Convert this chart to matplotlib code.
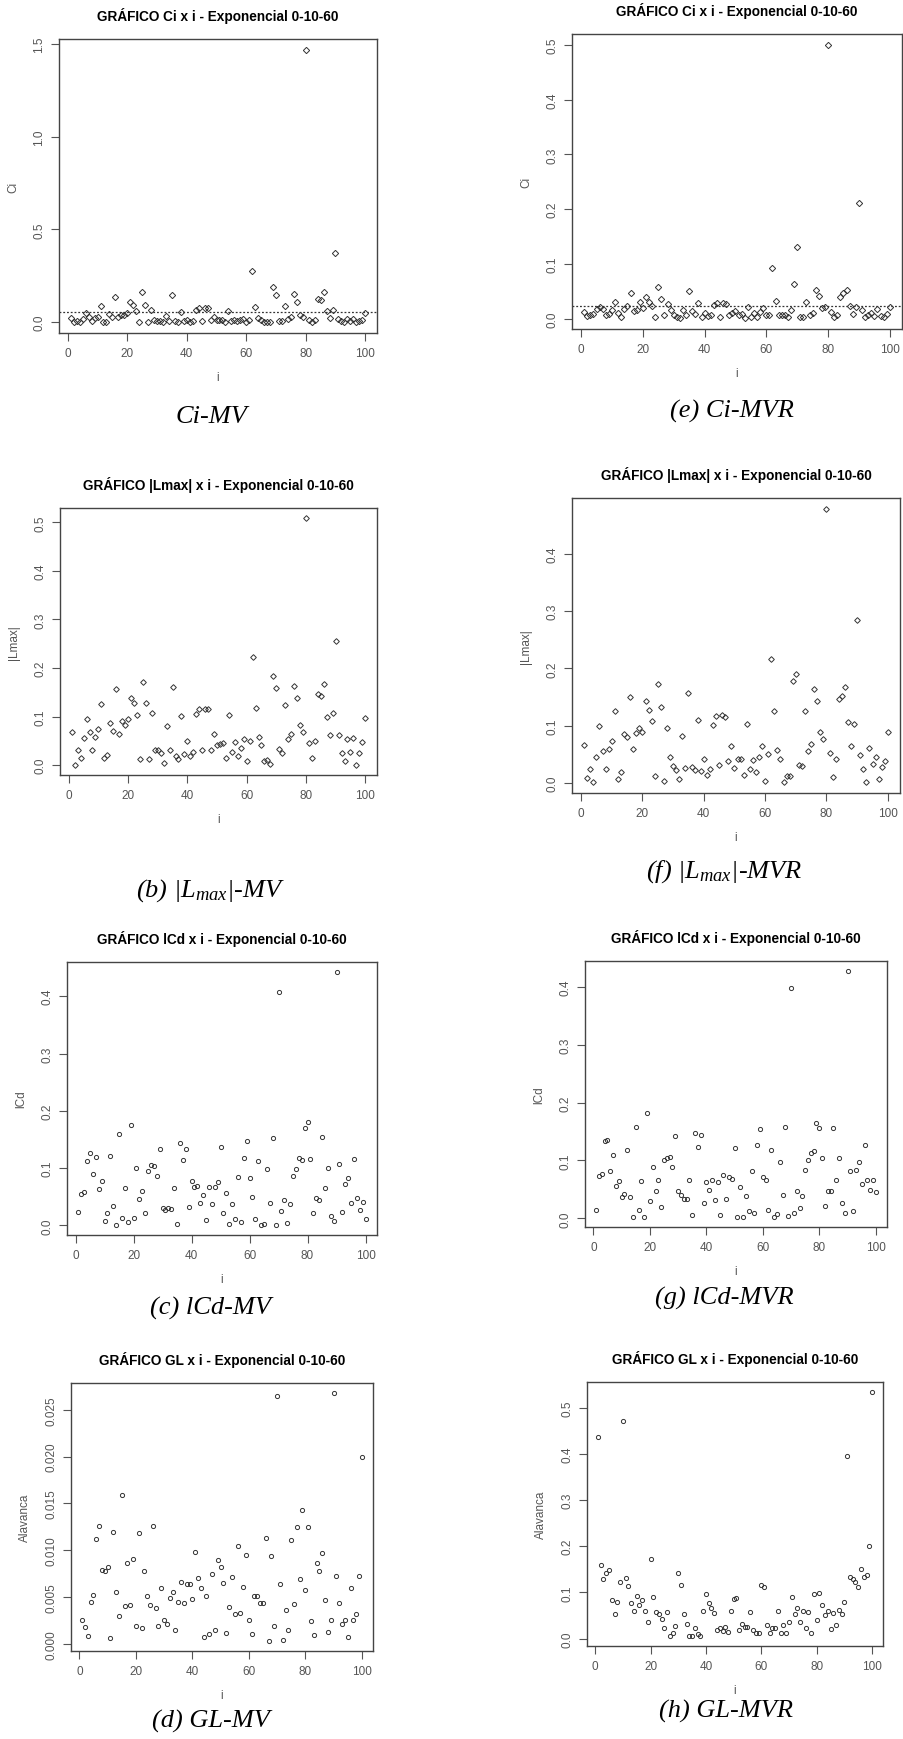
import numpy as np
import matplotlib
matplotlib.use("Agg")
import matplotlib.pyplot as plt
from matplotlib import font_manager

# valores (i = 1..100)
idx = np.arange(1, 101)

ci_mv = [0.02, 0.0, 0.005, 0.0, 0.015, 0.05, 0.025, 0.005, 0.02, 0.03,
         0.088, 0.0, 0.003, 0.043, 0.03, 0.138, 0.025, 0.038, 0.04, 0.048,
         0.106, 0.092, 0.06, 0.0, 0.165, 0.09, 0.0, 0.063, 0.01, 0.005,
         0.005, 0.0, 0.035, 0.008, 0.145, 0.005, 0.0, 0.055, 0.007, 0.013,
         0.002, 0.005, 0.065, 0.075, 0.005, 0.077, 0.077, 0.009, 0.025, 0.011,
         0.013, 0.012, 0.002, 0.06, 0.005, 0.013, 0.008, 0.01, 0.015, 0.0,
         0.012, 0.278, 0.08, 0.02, 0.01, 0.0, 0.0, 0.0, 0.19, 0.144,
         0.005, 0.005, 0.088, 0.017, 0.025, 0.15, 0.111, 0.04, 0.03, 1.468,
         0.013, 0.0, 0.013, 0.124, 0.118, 0.16, 0.058, 0.02, 0.066, 0.374,
         0.016, 0.005, 0.0, 0.016, 0.007, 0.016, 0.002, 0.008, 0.013, 0.048]
ci_mv_cut = 0.054

ci_mvr = [0.013, 0.004, 0.006, 0.009, 0.018, 0.021, 0.018, 0.006, 0.009, 0.015,
          0.03, 0.01, 0.003, 0.017, 0.023, 0.047, 0.014, 0.015, 0.03, 0.019,
          0.039, 0.031, 0.023, 0.003, 0.058, 0.036, 0.007, 0.027, 0.015, 0.006,
          0.003, 0.002, 0.015, 0.007, 0.05, 0.014, 0.009, 0.029, 0.003, 0.01,
          0.004, 0.007, 0.024, 0.028, 0.003, 0.029, 0.026, 0.006, 0.01, 0.014,
          0.006, 0.009, 0.001, 0.021, 0.003, 0.01, 0.003, 0.012, 0.02, 0.006,
          0.006, 0.092, 0.033, 0.007, 0.006, 0.007, 0.003, 0.015, 0.063, 0.131,
          0.003, 0.003, 0.031, 0.007, 0.01, 0.052, 0.041, 0.02, 0.022, 0.5,
          0.012, 0.003, 0.006, 0.04, 0.047, 0.052, 0.023, 0.009, 0.022, 0.212,
          0.015, 0.003, 0.006, 0.01, 0.004, 0.017, 0.004, 0.003, 0.009, 0.021]
ci_mvr_cut = 0.0234

lmax_mv = [0.069, 0.0, 0.032, 0.014, 0.056, 0.094, 0.068, 0.031, 0.057, 0.074,
           0.125, 0.014, 0.021, 0.087, 0.071, 0.156, 0.065, 0.09, 0.082, 0.094,
           0.138, 0.127, 0.103, 0.012, 0.171, 0.128, 0.012, 0.107, 0.032, 0.032,
           0.024, 0.005, 0.081, 0.032, 0.161, 0.019, 0.012, 0.101, 0.022, 0.049,
           0.019, 0.028, 0.106, 0.116, 0.032, 0.116, 0.116, 0.032, 0.064, 0.041,
           0.043, 0.045, 0.014, 0.103, 0.026, 0.047, 0.019, 0.036, 0.053, 0.008,
           0.049, 0.222, 0.118, 0.058, 0.041, 0.009, 0.01, 0.002, 0.184, 0.159,
           0.033, 0.024, 0.124, 0.054, 0.064, 0.163, 0.139, 0.082, 0.068, 0.509,
           0.045, 0.014, 0.049, 0.147, 0.143, 0.168, 0.1, 0.061, 0.108, 0.256,
           0.062, 0.024, 0.009, 0.054, 0.027, 0.056, 0.001, 0.024, 0.048, 0.098]

lmax_mvr = [0.067, 0.009, 0.024, 0.003, 0.046, 0.1, 0.057, 0.025, 0.059, 0.073,
            0.125, 0.008, 0.019, 0.086, 0.08, 0.15, 0.059, 0.087, 0.097, 0.089,
            0.143, 0.128, 0.108, 0.012, 0.173, 0.133, 0.004, 0.097, 0.045, 0.03,
            0.023, 0.008, 0.083, 0.027, 0.158, 0.029, 0.023, 0.111, 0.021, 0.042,
            0.014, 0.024, 0.102, 0.118, 0.031, 0.119, 0.115, 0.038, 0.065, 0.027,
            0.043, 0.042, 0.014, 0.103, 0.025, 0.04, 0.019, 0.045, 0.065, 0.004,
            0.051, 0.217, 0.125, 0.058, 0.042, 0.002, 0.013, 0.012, 0.179, 0.191,
            0.032, 0.03, 0.125, 0.056, 0.068, 0.165, 0.144, 0.089, 0.077, 0.478,
            0.052, 0.01, 0.043, 0.146, 0.152, 0.167, 0.106, 0.064, 0.104, 0.284,
            0.049, 0.025, 0.003, 0.062, 0.033, 0.045, 0.008, 0.029, 0.039, 0.089]

lcd_mv = [0.024, 0.055, 0.058, 0.113, 0.126, 0.089, 0.12, 0.064, 0.077, 0.007,
          0.022, 0.121, 0.034, 0.001, 0.159, 0.013, 0.065, 0.006, 0.175, 0.013,
          0.101, 0.046, 0.06, 0.022, 0.095, 0.106, 0.104, 0.086, 0.133, 0.03,
          0.027, 0.031, 0.029, 0.066, 0.003, 0.143, 0.115, 0.134, 0.032, 0.078,
          0.067, 0.069, 0.04, 0.053, 0.009, 0.067, 0.037, 0.067, 0.076, 0.137,
          0.022, 0.056, 0.003, 0.037, 0.012, 0.085, 0.006, 0.117, 0.147, 0.082,
          0.05, 0.012, 0.112, 0.001, 0.003, 0.099, 0.039, 0.152, 0.001, 0.408,
          0.026, 0.044, 0.005, 0.037, 0.086, 0.098, 0.117, 0.115, 0.17, 0.18,
          0.116, 0.022, 0.048, 0.044, 0.155, 0.065, 0.101, 0.017, 0.008, 0.442,
          0.108, 0.024, 0.073, 0.083, 0.04, 0.116, 0.048, 0.027, 0.041, 0.012]

lcd_mvr = [0.014, 0.074, 0.077, 0.133, 0.136, 0.081, 0.109, 0.056, 0.064, 0.037,
           0.042, 0.119, 0.036, 0.003, 0.158, 0.014, 0.064, 0.003, 0.182, 0.03,
           0.088, 0.048, 0.066, 0.019, 0.1, 0.104, 0.106, 0.088, 0.142, 0.047,
           0.041, 0.033, 0.033, 0.067, 0.005, 0.147, 0.123, 0.144, 0.026, 0.062,
           0.049, 0.067, 0.032, 0.062, 0.005, 0.075, 0.034, 0.072, 0.068, 0.121,
           0.003, 0.055, 0.002, 0.038, 0.012, 0.081, 0.009, 0.126, 0.155, 0.071,
           0.067, 0.014, 0.119, 0.002, 0.007, 0.097, 0.041, 0.158, 0.004, 0.399,
           0.01, 0.048, 0.017, 0.039, 0.083, 0.1, 0.113, 0.116, 0.165, 0.157,
           0.105, 0.021, 0.047, 0.047, 0.157, 0.066, 0.104, 0.026, 0.01, 0.428,
           0.082, 0.013, 0.083, 0.097, 0.059, 0.126, 0.066, 0.049, 0.066, 0.045]

gl_mv = [0.00254, 0.00175, 0.00082, 0.00443, 0.00518, 0.0112, 0.0126, 0.0079, 0.0078, 0.0082,
         0.00068, 0.0119, 0.0055, 0.003, 0.0159, 0.004, 0.0086, 0.0041, 0.0091, 0.0019,
         0.0118, 0.0017, 0.0078, 0.0051, 0.0042, 0.0126, 0.0038, 0.0019, 0.006, 0.0026,
         0.0021, 0.0049, 0.0055, 0.0015, 0.0045, 0.0066, 0.0044, 0.0064, 0.0064, 0.0048,
         0.0098, 0.007, 0.006, 0.0007, 0.0051, 0.0011, 0.0075, 0.0015, 0.009, 0.0082,
         0.0065, 0.0012, 0.0039, 0.0071, 0.0032, 0.0104, 0.0033, 0.0061, 0.0095, 0.0026,
         0.0011, 0.0051, 0.0051, 0.0044, 0.0044, 0.0113, 0.0003, 0.0094, 0.0019, 0.0265,
         0.0064, 0.0004, 0.0036, 0.0015, 0.0111, 0.0043, 0.0125, 0.0069, 0.0143, 0.0058,
         0.0125, 0.0024, 0.0009, 0.0086, 0.0078, 0.0097, 0.0047, 0.0013, 0.0026, 0.0268,
         0.0073, 0.0044, 0.0021, 0.0026, 0.0007, 0.006, 0.0025, 0.0032, 0.0073, 0.02]

gl_mvr = [0.438, 0.159, 0.13, 0.143, 0.149, 0.083, 0.054, 0.08, 0.123, 0.471,
          0.132, 0.114, 0.076, 0.059, 0.093, 0.072, 0.084, 0.059, 0.035, 0.173,
          0.09, 0.057, 0.053, 0.042, 0.022, 0.057, 0.005, 0.012, 0.028, 0.141,
          0.116, 0.054, 0.031, 0.005, 0.005, 0.023, 0.009, 0.006, 0.06, 0.096,
          0.077, 0.067, 0.056, 0.018, 0.022, 0.016, 0.025, 0.015, 0.06, 0.086,
          0.088, 0.019, 0.031, 0.026, 0.024, 0.058, 0.019, 0.013, 0.012, 0.117,
          0.112, 0.029, 0.012, 0.022, 0.023, 0.06, 0.012, 0.029, 0.013, 0.035,
          0.089, 0.054, 0.066, 0.036, 0.06, 0.022, 0.057, 0.012, 0.096, 0.041,
          0.099, 0.072, 0.051, 0.059, 0.021, 0.056, 0.03, 0.061, 0.054, 0.079,
          0.396, 0.133, 0.13, 0.122, 0.112, 0.151, 0.133, 0.137, 0.201, 0.535]

title_txt = "GRÁFICO {} x i - Exponencial 0-10-60"

# fontes
names = {f.name for f in font_manager.fontManager.ttflist}
if "Liberation Sans Narrow" in names:
    title_font, title_size = "Liberation Sans Narrow", 11.5
else:
    title_font, title_size = "Liberation Sans", 9.8

plt.rcParams["font.family"] = ["Liberation Sans", "DejaVu Sans"]
plt.rcParams["mathtext.fontset"] = "custom"
plt.rcParams["mathtext.it"] = "Liberation Serif:italic"
plt.rcParams["mathtext.rm"] = "Liberation Serif:italic"

W, H = 904, 1740
fig = plt.figure(figsize=(W / 100, H / 100), dpi=100)

gray = "#555555"

# (left, right, top, bottom) em pixels
panels = [
    (ci_mv, "Ci", "Ci", [0, 0.5, 1.0, 1.5], "%.1f", (59, 377, 40, 334), ci_mv_cut, "D", 3.2),
    (ci_mvr, "Ci", "Ci", [0, 0.1, 0.2, 0.3, 0.4, 0.5], "%.1f", (572, 902, 35, 330), ci_mvr_cut, "D", 3.2),
    (lmax_mv, "|Lmax|", "|Lmax|", [0, 0.1, 0.2, 0.3, 0.4, 0.5], "%.1f", (60, 377, 509, 776), None, "D", 2.9),
    (lmax_mvr, "|Lmax|", "|Lmax|", [0, 0.1, 0.2, 0.3, 0.4], "%.1f", (572, 900, 499, 794), None, "D", 2.9),
    (lcd_mv, "lCd", "lCd", [0, 0.1, 0.2, 0.3, 0.4], "%.1f", (67, 377, 963, 1236), None, "o", 3.0),
    (lcd_mvr, "lCd", "lCd", [0, 0.1, 0.2, 0.3, 0.4], "%.1f", (585, 887, 962, 1228), None, "o", 3.0),
    (gl_mv, "GL", "Alavanca", [0, 0.005, 0.01, 0.015, 0.02, 0.025], "%.3f", (71, 373, 1384, 1652), None, "o", 3.0),
    (gl_mvr, "GL", "Alavanca", [0, 0.1, 0.2, 0.3, 0.4, 0.5], "%.1f", (587, 883, 1383, 1647), None, "o", 3.0),
]

for vals, tname, ylab, yt, fmt, (l, r, t, b), cut, mk, ms in panels:
    ax = fig.add_axes([l / W, 1 - b / H, (r - l) / W, (b - t) / H])
    ax.plot(idx, vals, linestyle="none", marker=mk, ms=ms, mfc="none",
            mec="#333333", mew=0.7)
    ax.margins(x=0.04, y=0.04)
    if cut is not None:
        ax.axhline(cut, color="#333333", linestyle=(0, (1.5, 1.5)), lw=0.9)
    ax.set_xticks([0, 20, 40, 60, 80, 100])
    ax.set_yticks(yt)
    ax.yaxis.set_major_formatter(matplotlib.ticker.FormatStrFormatter(fmt))
    ax.tick_params(direction="out", length=6, width=0.8, color=gray,
                   labelsize=8.5, labelcolor=gray, pad=4)
    for lbl in ax.get_yticklabels():
        lbl.set_rotation(90)
        lbl.set_va("center")
    for s in ax.spines.values():
        s.set_color("#444444")
        s.set_linewidth(1.0)
    ax.set_ylabel(ylab, fontsize=8.5, color=gray, labelpad=10)
    ax.set_xlabel("i", fontsize=8.5, color=gray, labelpad=9)
    ax.set_title(title_txt.format(tname), fontsize=title_size,
                 family=title_font, fontweight="bold", pad=14)

captions = [
    ("Ci-MV", 211, 417),
    ("(e) Ci-MVR", 732, 411),
    ("(b) |$L_{max}$|-MV", 211, 891),
    ("(f) |$L_{max}$|-MVR", 724, 872),
    ("(c) lCd-MV", 211, 1308),
    ("(g) lCd-MVR", 724, 1298),
    ("(d) GL-MV", 211, 1721),
    ("(h) GL-MVR", 726, 1711),
]
for txt, x, y in captions:
    fig.text(x / W, 1 - y / H, txt, family="Liberation Serif", style="italic",
             fontsize=19, ha="center", va="center")

fig.savefig("out.png", dpi=100)
